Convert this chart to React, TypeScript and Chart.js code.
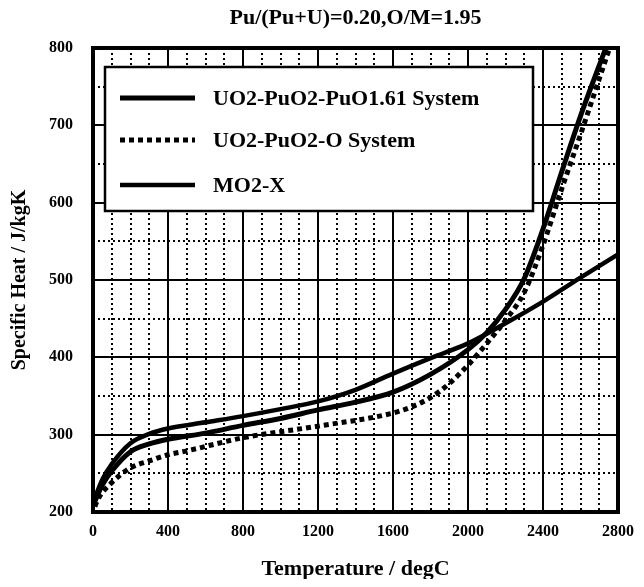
import React, { useEffect, useRef } from "react";
import { Chart, registerables } from "chart.js";

Chart.register(...registerables);

const CHART_TITLE = "Pu/(Pu+U)=0.20,O/M=1.95";
const X_TITLE = "Temperature / degC";
const Y_TITLE = "Specific Heat / J/kgK";

const X_MIN = 0;
const X_MAX = 2800;
const X_MAJOR = 400;
const X_MINOR = 100;
const Y_MIN = 200;
const Y_MAX = 800;
const Y_MAJOR = 100;
const Y_MINOR = 50;

const SERIES_NAMES = ["UO2-PuO2-PuO1.61 System", "UO2-PuO2-O System", "MO2-X"];

// UO2-PuO2-PuO1.61 System (solid, steep at high T)
const tempPuO161 = [0, 50, 100, 200, 300, 400, 600, 800, 1000, 1200, 1400, 1600, 1800, 2000, 2100, 2200, 2300, 2400, 2500, 2600, 2735];
const cpPuO161 = [208, 235, 253, 278, 288, 294, 302, 312, 321, 332, 342, 355, 378, 410, 432, 462, 502, 566, 640, 712, 800];

// UO2-PuO2-O System (dotted)
const tempO = [10, 25, 100, 200, 300, 400, 500, 800, 1200, 1600, 1700, 1800, 1900, 2000, 2100, 2200, 2300, 2400, 2500, 2600, 2755];
const cpO = [207, 216, 238, 257, 266, 274, 279, 296, 311, 328, 336, 348, 366, 390, 418, 448, 484, 545, 618, 688, 800];

// MO2-X (solid)
const tempMO2X = [0, 50, 100, 200, 300, 400, 600, 800, 1000, 1200, 1400, 1600, 1800, 2000, 2200, 2400, 2600, 2800];
const cpMO2X = [212, 242, 262, 289, 301, 308, 316, 324, 333, 343, 358, 379, 399, 418, 444, 472, 503, 533];

const FONT_FAMILY = "'Liberation Serif', 'Times New Roman', serif";

const toPoints = (xs: number[], ys: number[]) => xs.map((x, i) => ({ x, y: ys[i] }));

const minorGridPlugin = {
  id: "minorGrid",
  beforeDatasetsDraw(chart: any) {
    const { ctx, chartArea: ca, scales } = chart;
    ctx.save();
    ctx.strokeStyle = "#000";
    ctx.lineWidth = 2;
    ctx.setLineDash([2, 3]);
    for (let v = X_MIN + X_MINOR; v < X_MAX; v += X_MINOR) {
      if (v % X_MAJOR === 0) continue;
      const px = Math.round(scales.x.getPixelForValue(v));
      ctx.beginPath();
      ctx.moveTo(px, ca.top);
      ctx.lineTo(px, ca.bottom);
      ctx.stroke();
    }
    for (let v = Y_MIN + Y_MINOR; v < Y_MAX; v += Y_MINOR) {
      if (v % Y_MAJOR === 0) continue;
      const py = Math.round(scales.y.getPixelForValue(v));
      ctx.beginPath();
      ctx.moveTo(ca.left, py);
      ctx.lineTo(ca.right, py);
      ctx.stroke();
    }
    ctx.restore();
  },
};

const frameAndLegendPlugin = {
  id: "frameAndLegend",
  afterDatasetsDraw(chart: any) {
    const { ctx, chartArea: ca } = chart;
    ctx.save();
    // frame
    ctx.setLineDash([]);
    ctx.strokeStyle = "#000";
    ctx.lineWidth = 4;
    ctx.strokeRect(ca.left, ca.top, ca.right - ca.left, ca.bottom - ca.top);

    // legend box
    const bx = ca.left + 12;
    const by = ca.top + 19;
    const bw = 428;
    const bh = 144;
    ctx.fillStyle = "#fff";
    ctx.fillRect(bx, by, bw, bh);
    ctx.lineWidth = 2.5;
    ctx.strokeRect(bx, by, bw, bh);

    const rows = [31, 73, 118];
    const dsList = chart.data.datasets;
    ctx.font = `bold 22px ${FONT_FAMILY}`;
    ctx.textBaseline = "middle";
    ctx.textAlign = "left";
    dsList.forEach((ds: any, i: number) => {
      const y = by + rows[i];
      ctx.beginPath();
      ctx.strokeStyle = "#000";
      ctx.lineWidth = ds.borderWidth;
      ctx.setLineDash(ds.borderDash || []);
      ctx.moveTo(bx + 15, y);
      ctx.lineTo(bx + 90, y);
      ctx.stroke();
      ctx.setLineDash([]);
      ctx.fillStyle = "#000";
      ctx.fillText(ds.label, bx + 108, y + 1);
    });
    ctx.restore();
  },
};

export default function App() {
  const canvasRef = useRef<HTMLCanvasElement | null>(null);

  useEffect(() => {
    const canvas = canvasRef.current;
    if (!canvas) return;
    const chart = new Chart(canvas, {
      type: "line",
      data: {
        datasets: [
          {
            label: SERIES_NAMES[0],
            data: toPoints(tempPuO161, cpPuO161),
            borderColor: "#000",
            borderWidth: 5,
            pointRadius: 0,
            fill: false,
            cubicInterpolationMode: "monotone",
          },
          {
            label: SERIES_NAMES[1],
            data: toPoints(tempO, cpO),
            borderColor: "#000",
            borderWidth: 5,
            borderDash: [5, 4],
            pointRadius: 0,
            fill: false,
            cubicInterpolationMode: "monotone",
          },
          {
            label: SERIES_NAMES[2],
            data: toPoints(tempMO2X, cpMO2X),
            borderColor: "#000",
            borderWidth: 4.5,
            pointRadius: 0,
            fill: false,
            cubicInterpolationMode: "monotone",
          },
        ],
      },
      options: {
        responsive: false,
        animation: false,
        events: [],
        layout: { padding: { left: 0, right: 17, top: 0, bottom: 0 } },
        plugins: {
          legend: { display: false },
          tooltip: { enabled: false },
          title: {
            display: true,
            text: CHART_TITLE,
            fullSize: false,
            color: "#000",
            font: { family: FONT_FAMILY, size: 22, weight: "bold", lineHeight: 1.2 },
            padding: { top: 5, bottom: 16.6 },
          },
        },
        scales: {
          x: {
            type: "linear",
            min: X_MIN,
            max: X_MAX,
            afterFit: (s: any) => {
              s.height = 75;
            },
            border: { display: false },
            grid: { color: "#000", lineWidth: 2, drawTicks: false },
            ticks: {
              stepSize: X_MAJOR,
              padding: 10,
              color: "#000",
              maxRotation: 0,
              callback: (v: any) => String(v),
              font: { family: FONT_FAMILY, size: 16, weight: "bold" },
            },
            title: {
              display: true,
              text: X_TITLE,
              color: "#000",
              font: { family: FONT_FAMILY, size: 22, weight: "bold", lineHeight: 1.2 },
              padding: { top: 0, bottom: 4 },
            },
          },
          y: {
            type: "linear",
            min: Y_MIN,
            max: Y_MAX,
            afterFit: (s: any) => {
              s.width = 93;
            },
            border: { display: false },
            grid: { color: "#000", lineWidth: 2, drawTicks: false },
            ticks: {
              stepSize: Y_MAJOR,
              padding: 20,
              color: "#000",
              callback: (v: any) => String(v),
              font: { family: FONT_FAMILY, size: 16, weight: "bold" },
            },
            title: {
              display: true,
              text: Y_TITLE,
              color: "#000",
              font: { family: FONT_FAMILY, size: 20, weight: "bold", lineHeight: 1.2 },
              padding: { top: 8, bottom: 0 },
            },
          },
        },
      },
      plugins: [minorGridPlugin, frameAndLegendPlugin],
    });
    return () => chart.destroy();
  }, []);

  return (
    <div style={{ margin: "-8px", width: 644, height: 587, background: "#fff" }}>
      <canvas ref={canvasRef} width={644} height={587} style={{ display: "block" }} />
    </div>
  );
}
